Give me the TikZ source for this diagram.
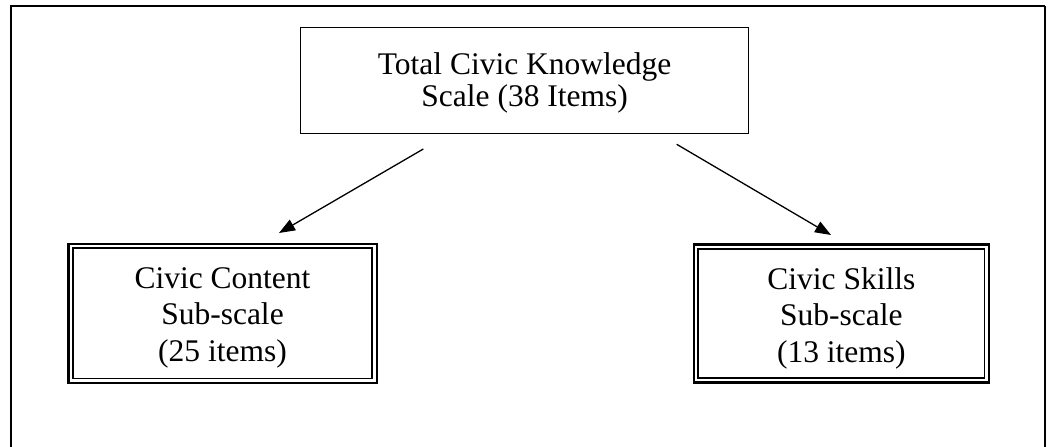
\documentclass[tikz,border=0pt]{standalone}
\usepackage{fontspec}
\setmainfont{Liberation Serif}
\usetikzlibrary{arrows.meta,calc}
\tikzset{
  topbox/.style={draw, line width=1.3pt, inner sep=0pt, outer sep=0pt, align=center,
    font=\fontsize{31.5pt}{32pt}\selectfont},
  subbox/.style={draw, line width=2.4pt, inner sep=0pt, outer sep=0pt, align=center,
    font=\fontsize{31.5pt}{36.5pt}\selectfont},
  innerline/.style={line width=1.6pt},
  conn/.style={line width=1.3pt, -{Triangle[length=16pt,width=12pt]}},
  framethick/.style={line width=2pt},
  framethin/.style={line width=1.2pt}
}
\begin{document}
\begin{tikzpicture}[x=1pt,y=-1pt]
\useasboundingbox (0,0) rectangle (1050,447);
% outer frame (open at the bottom)
\draw[framethick] (11.3,447) -- (11.3,6) -- (1045,6);
\draw[framethin] (1045,6) -- (1045,447);
% boxes
\node[topbox, minimum width=448.1pt, minimum height=106.1pt, text height=58.2pt, text depth=6.9pt]
  (top) at (524.65,80.35) {Total Civic Knowledge\\Scale (38 Items)};
\node[subbox, minimum width=308.4pt, minimum height=139.3pt, text height=102.2pt, text depth=6.9pt]
  (content) at (222.5,313.35) {Civic Content\\Sub-scale\\(25 items)};
\node[subbox, minimum width=295.3pt, minimum height=138pt, text height=104.3pt, text depth=6.9pt]
  (skills) at (841.35,313.3) {Civic Skills\\Sub-scale\\(13 items)};
\draw[innerline] ($(content.north west)+(4.5,4.5)$) rectangle ($(content.south east)+(-4.5,-4.5)$);
\draw[innerline] ($(skills.north west)+(4.5,4.5)$) rectangle ($(skills.south east)+(-4.5,-4.5)$);
% connectors
\coordinate (lstart) at (423.3,149);
\coordinate (lend) at (279,233);
\coordinate (rstart) at (676.7,144.3);
\coordinate (rend) at (831,235);
\draw[conn] (lstart) -- (lend);
\draw[conn] (rstart) -- (rend);
\end{tikzpicture}
\end{document}
